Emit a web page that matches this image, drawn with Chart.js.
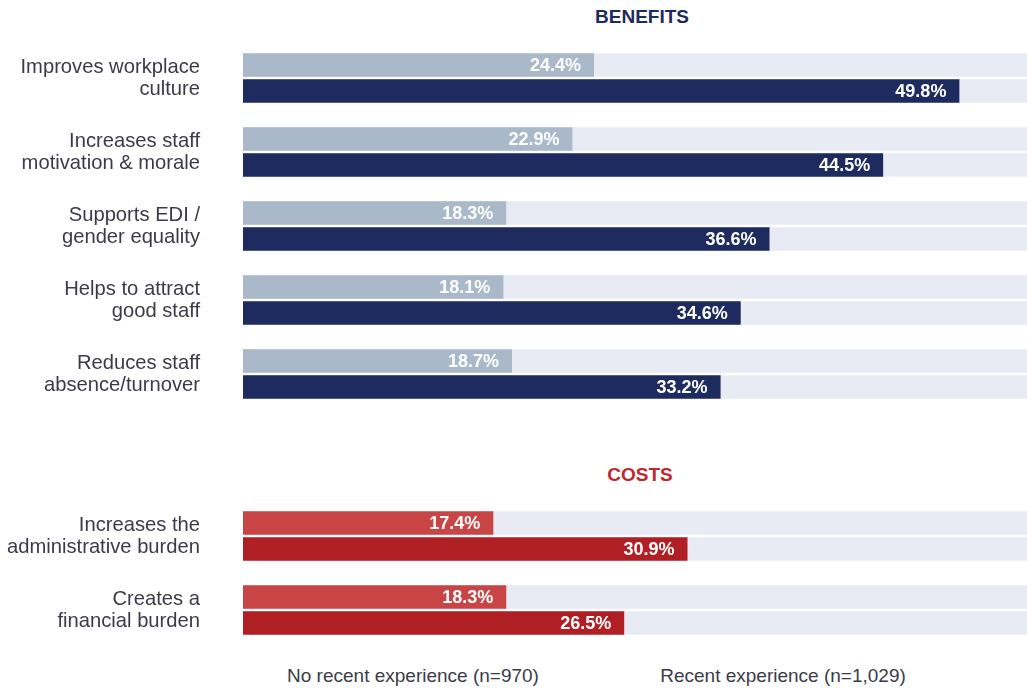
<!DOCTYPE html>
<html>
<head>
<meta charset="utf-8">
<script src="https://cdn.jsdelivr.net/npm/chart.js@4"></script>
<style>
  body { margin: 0; background: #fff; font-family: "Liberation Sans", Arial, sans-serif; }
  #wrap { position: relative; width: 1027px; height: 688px; overflow: hidden; }
  .box { position: absolute; left: 0; width: 1027px; }
  .head { position: absolute; width: 300px; text-align: center; font-weight: bold; font-size: 19px; line-height: 22px; }
  .leg { position: absolute; font-size: 19px; color: #3b3b48; line-height: 22px; width: 300px; text-align: center; }
</style>
</head>
<body>
<div id="wrap">
  <div class="head" style="left:492px;top:6px;color:#1d2b5e">BENEFITS</div>
  <div class="head" style="left:490px;top:464px;color:#c0272d">COSTS</div>
  <div class="box" style="top:41px;height:370px"><canvas id="benefits"></canvas></div>
  <div class="box" style="top:499px;height:148px"><canvas id="costs"></canvas></div>
  <div class="leg" style="left:263px;top:665px">No recent experience (n=970)</div>
  <div class="leg" style="left:633px;top:665px">Recent experience (n=1,029)</div>
</div>
<script>
const benefitLabels = [
  ["Improves workplace", "culture"],
  ["Increases staff", "motivation & morale"],
  ["Supports EDI /", "gender equality"],
  ["Helps to attract", "good staff"],
  ["Reduces staff", "absence/turnover"]
];
const benefitNoRecent = [24.4, 22.9, 18.3, 18.1, 18.7];
const benefitRecent = [49.8, 44.5, 36.6, 34.6, 33.2];

const costLabels = [
  ["Increases the", "administrative burden"],
  ["Creates a", "financial burden"]
];
const costNoRecent = [17.4, 18.3];
const costRecent = [30.9, 26.5];

const seriesNames = ["No recent experience (n=970)", "Recent experience (n=1,029)"];
const axisMax = 54.5;

// grey track behind every bar
const trackPlugin = {
  id: "track",
  beforeDatasetsDraw(chart) {
    const {ctx, chartArea} = chart;
    ctx.save();
    ctx.fillStyle = "#e8ebf3";
    chart.data.datasets.forEach((ds, i) => {
      for (const bar of chart.getDatasetMeta(i).data) {
        ctx.fillRect(chartArea.left, bar.y - bar.height / 2, chartArea.right - chartArea.left, bar.height);
      }
    });
    ctx.restore();
  }
};

const valuePlugin = {
  id: "values",
  afterDatasetsDraw(chart) {
    const {ctx} = chart;
    ctx.save();
    ctx.fillStyle = "#ffffff";
    ctx.font = "bold 18px 'Liberation Sans', Arial, sans-serif";
    ctx.textAlign = "right";
    ctx.textBaseline = "middle";
    chart.data.datasets.forEach((ds, i) => {
      chart.getDatasetMeta(i).data.forEach((bar, j) => {
        ctx.fillText(ds.data[j].toFixed(1) + "%", bar.x - 13, bar.y + 1);
      });
    });
    ctx.restore();
  }
};

function makeChart(id, labels, a, b, colA, colB) {
  return new Chart(document.getElementById(id), {
    type: "bar",
    data: {
      labels: labels,
      datasets: [
        { label: seriesNames[0], data: a, backgroundColor: colA },
        { label: seriesNames[1], data: b, backgroundColor: colB }
      ]
    },
    options: {
      indexAxis: "y",
      responsive: true,
      maintainAspectRatio: false,
      animation: false,
      categoryPercentage: 52 / 74,
      barPercentage: 23.5 / 26,
      layout: { padding: 0 },
      plugins: { legend: { display: false }, tooltip: { enabled: false } },
      scales: {
        x: { min: 0, max: axisMax, display: false },
        y: {
          afterFit(scale) {
            scale.width = 243;
            scale.paddingTop = 0;
            scale.paddingBottom = 0;
          },
          border: { display: false },
          grid: { display: false, drawTicks: false },
          ticks: {
            padding: 43,
            color: "#3b3b48",
            font: { family: "'Liberation Sans', Arial, sans-serif", size: 20.2, lineHeight: 1.09 }
          }
        }
      }
    },
    plugins: [trackPlugin, valuePlugin]
  });
}

makeChart("benefits", benefitLabels, benefitNoRecent, benefitRecent, "#a9b9c9", "#1d2b5e");
makeChart("costs", costLabels, costNoRecent, costRecent, "#c94545", "#b01f24");
</script>
</body>
</html>
